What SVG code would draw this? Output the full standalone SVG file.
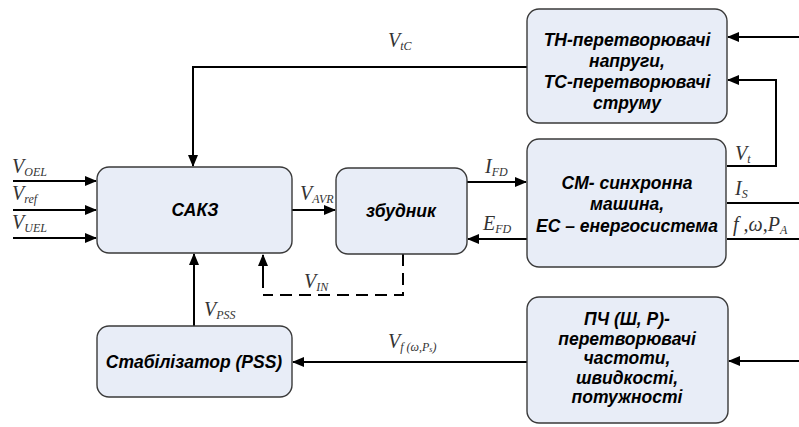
<svg xmlns="http://www.w3.org/2000/svg" width="799" height="427" viewBox="0 0 799 427">
<style>
.box{fill:#e8edf7;stroke:#3a3a3a;stroke-width:1.4}
.t{font-family:"Liberation Sans",Arial,sans-serif;font-weight:bold;font-style:italic;font-size:17.5px;text-anchor:middle;fill:#000}
.ln{fill:none;stroke:#000;stroke-width:2}
.dash{fill:none;stroke:#000;stroke-width:2;stroke-dasharray:12,7}
.v{font-family:"Liberation Serif","Times New Roman",serif;font-style:italic;font-size:20px;fill:#333}
.s{font-size:12px}
</style>
<defs>
<marker id="ah" markerWidth="12" markerHeight="10" refX="11" refY="5" orient="auto" markerUnits="userSpaceOnUse">
<path d="M0,0 L12,5 L0,10 Z" fill="#000"/>
</marker>
</defs>
<rect width="799" height="427" fill="#fff"/>
<g id="connectors">
<path class="ln" d="M527,67 H193 V166" marker-end="url(#ah)"/>
<path class="ln" d="M13,181 H96" marker-end="url(#ah)"/>
<path class="ln" d="M13,210 H96" marker-end="url(#ah)"/>
<path class="ln" d="M13,238 H96" marker-end="url(#ah)"/>
<path class="ln" d="M292,210 H335" marker-end="url(#ah)"/>
<path class="ln" d="M467,182 H526" marker-end="url(#ah)"/>
<path class="ln" d="M527,239 H468" marker-end="url(#ah)"/>
<path class="ln" d="M799,37 H728" marker-end="url(#ah)"/>
<path class="ln" d="M727,166 H776 V80 H728" marker-end="url(#ah)"/>
<path class="ln" d="M727,203 H799"/>
<path class="ln" d="M727,239 H799"/>
<path class="ln" d="M799,361 H729" marker-end="url(#ah)"/>
<path class="ln" d="M527,362 H293" marker-end="url(#ah)"/>
<path class="ln" d="M194,326 V254" marker-end="url(#ah)"/>
<path class="dash" d="M403,254 V295 H263"/>
<path class="ln" d="M263,288 V255" marker-end="url(#ah)"/>
</g>
<g id="labels">
<text class="v" x="388" y="47">V<tspan class="s" dy="3">tC</tspan></text>
<text class="v" x="12" y="173">V<tspan class="s" dy="3">OEL</tspan></text>
<text class="v" x="12" y="200">V<tspan class="s" dy="3">ref</tspan></text>
<text class="v" x="12" y="229">V<tspan class="s" dy="3">UEL</tspan></text>
<text class="v" x="300" y="200">V<tspan class="s" dy="3">AVR</tspan></text>
<text class="v" x="485" y="173">I<tspan class="s" dy="3">FD</tspan></text>
<text class="v" x="483" y="230">E<tspan class="s" dy="3">FD</tspan></text>
<text class="v" x="304" y="288">V<tspan class="s" dy="3">IN</tspan></text>
<text class="v" x="204" y="316">V<tspan class="s" dy="3">PSS</tspan></text>
<text class="v" x="388" y="348">V<tspan class="s" dy="3">f (ω,P</tspan><tspan font-size="8px" dy="1">s</tspan><tspan class="s" dy="-1">)</tspan></text>
<text class="v" x="735" y="160">V<tspan class="s" dy="3">t</tspan></text>
<text class="v" x="735" y="195">I<tspan class="s" dy="3">S</tspan></text>
<text class="v" x="733" y="231">f ,ω,P<tspan class="s" dy="3">A</tspan></text>
</g>
<g id="sakz">
<rect class="box" x="97" y="167" width="195" height="86" rx="12"/>
<text class="t" x="195" y="216">САКЗ</text>
</g>
<g id="zbudnyk">
<rect class="box" x="336" y="168" width="131" height="86" rx="12"/>
<text class="t" x="401" y="217">збудник</text>
</g>
<g id="th">
<rect class="box" x="527" y="9" width="200" height="114" rx="12"/>
<text class="t" x="627" y="46" font-size="17px">ТН-перетворювачі</text>
<text class="t" x="627" y="67" font-size="17px">напруги,</text>
<text class="t" x="627" y="88" font-size="17px">ТС-перетворювачі</text>
<text class="t" x="627" y="109" font-size="17px">струму</text>
</g>
<g id="sm">
<rect class="box" x="527" y="139" width="199" height="128" rx="12"/>
<text class="t" x="627" y="189">СМ- синхронна</text>
<text class="t" x="627" y="210">машина,</text>
<text class="t" x="627" y="232">ЕС – енергосистема</text>
</g>
<g id="pss">
<rect class="box" x="97" y="326" width="195" height="71" rx="12"/>
<text class="t" x="194" y="368">Стабілізатор (PSS)</text>
</g>
<g id="pch">
<rect class="box" x="527" y="297" width="201" height="126" rx="12"/>
<text class="t" x="627" y="325" font-size="16.5px">ПЧ (Ш, Р)-</text>
<text class="t" x="627" y="344.5" font-size="16.5px">перетворювачі</text>
<text class="t" x="627" y="364" font-size="16.5px">частоти,</text>
<text class="t" x="627" y="383.5" font-size="16.5px">швидкості,</text>
<text class="t" x="627" y="403" font-size="16.5px">потужності</text>
</g>
</svg>
